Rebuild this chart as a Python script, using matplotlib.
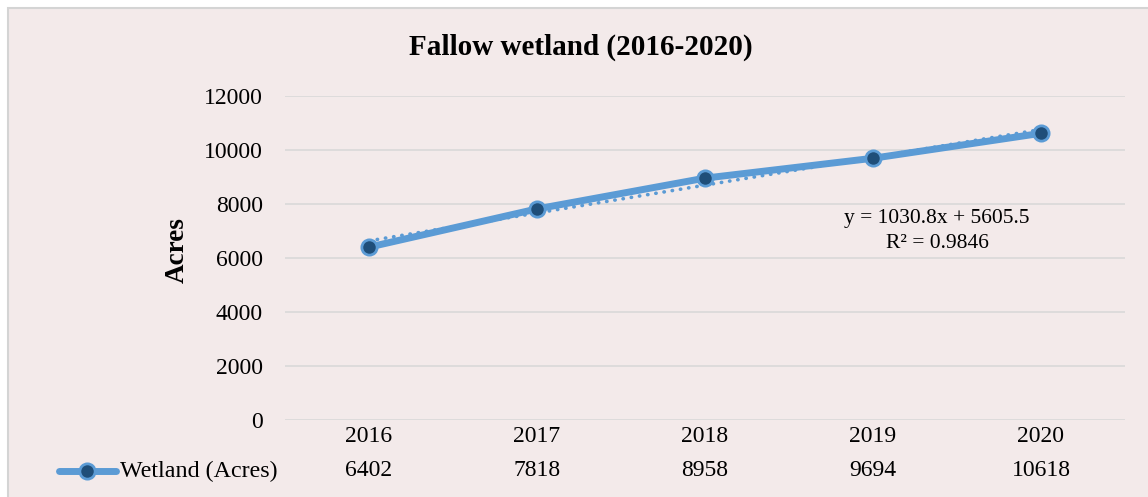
import matplotlib
matplotlib.use("Agg")
import matplotlib.pyplot as plt
from matplotlib.patches import Rectangle
from matplotlib.lines import Line2D
from matplotlib.transforms import blended_transform_factory
import numpy as np

years = ["2016", "2017", "2018", "2019", "2020"]
wetland = [6402, 7818, 8958, 9694, 10618]
series_name = "Wetland (Acres)"
title = "Fallow wetland (2016-2020)"
ylabel = "Acres"
yticks = [0, 2000, 4000, 6000, 8000, 10000, 12000]
eq_text = "y = 1030.8x + 5605.5\nR² = 0.9846"

W, H = 1148, 497
plt.rcParams['font.family'] = ['Liberation Serif', 'DejaVu Serif']
fig = plt.figure(figsize=(W / 100, H / 100), dpi=100)
fig.patch.set_facecolor("white")

bg = "#f3eaea"
fig.patches.append(Rectangle((8 / W, -0.02), 1.05, 1 - 8 / H + 0.02,
                             transform=fig.transFigure, facecolor=bg,
                             edgecolor="#d4d4d4", linewidth=1.5, zorder=-5))

ax = fig.add_axes([285 / W, 1 - 420 / H, (1125 - 285) / W, (420 - 96) / H])
ax.set_facecolor("none")
x = np.arange(1, len(years) + 1)
ax.set_xlim(0.5, len(years) + 0.5)
ax.set_ylim(0, 12000)
ax.set_yticks(yticks)
ax.set_yticklabels([str(v) for v in yticks], fontsize=17)
ax.tick_params(axis='y', length=0, pad=16)
ax.set_xticks([])
for s in ax.spines.values():
    s.set_visible(False)
ax.grid(axis='y', color="#d9d9d9", linewidth=1.2)
ax.set_axisbelow(True)

blue = "#5b9bd5"
navy = "#1f4e79"
ax.plot(x, wetland, color=blue, linewidth=5, marker='o', markersize=11,
        markerfacecolor=navy, markeredgecolor=blue, markeredgewidth=2,
        solid_capstyle='round', zorder=3)

coef = np.polyfit(x, wetland, 1)
xt = np.array([x[0], x[-1]])
ax.plot(xt, np.polyval(coef, xt), color=blue, linewidth=2.6,
        linestyle=(0, (0.1, 2.2)), dash_capstyle='round', zorder=2)

fig.text(937 / W, 1 - 231 / H, eq_text, ha='center', va='center',
         fontsize=15.5, linespacing=1.4)

fig.text(581 / W, 1 - 47 / H, title, ha='center', va='center',
         fontsize=21, fontweight='bold')
fig.text(177 / W, 1 - 250 / H, ylabel, ha='center', va='center',
         fontsize=19.5, fontweight='bold', rotation=90)

tr = blended_transform_factory(ax.transData, fig.transFigure)
for xi, yr, v in zip(x, years, wetland):
    ax.text(xi, 1 - 437 / H, yr, transform=tr, ha='center', va='center',
            fontsize=17)
    ax.text(xi, 1 - 471 / H, str(v), transform=tr, ha='center', va='center',
            fontsize=17)

fig.lines.append(Line2D([59 / W, 116 / W], [1 - 471 / H, 1 - 471 / H],
                        transform=fig.transFigure, color=blue, linewidth=5,
                        solid_capstyle='round'))
fig.lines.append(Line2D([87 / W], [1 - 471 / H], transform=fig.transFigure,
                        marker='o', markersize=11, markerfacecolor=navy,
                        markeredgecolor=blue, markeredgewidth=2,
                        linestyle='none'))
fig.text(120 / W, 1 - 471 / H, series_name, ha='left', va='center',
         fontsize=17.3)

fig.savefig("out.png", dpi=100, facecolor=fig.get_facecolor())
